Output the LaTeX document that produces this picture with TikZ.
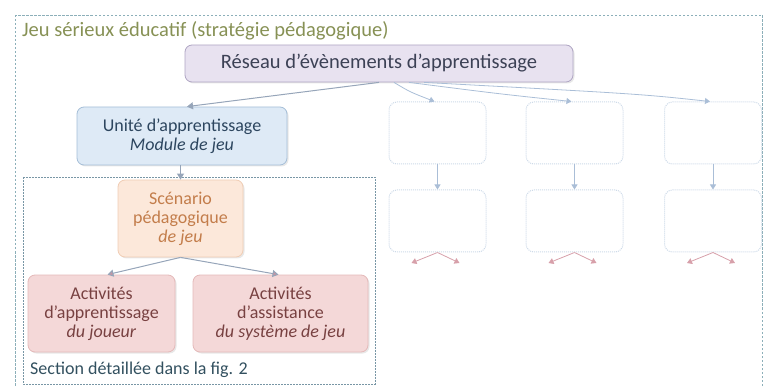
\documentclass[tikz,border=0pt]{standalone}
\usepackage{fontspec}
\setmainfont{Carlito}
\usetikzlibrary{arrows.meta,shadows}
\definecolor{titlec}{RGB}{135,145,85}
\definecolor{outerc}{RGB}{140,175,185}
\definecolor{resfill}{RGB}{232,226,240}
\definecolor{resdraw}{RGB}{175,165,195}
\definecolor{restext}{RGB}{60,65,85}
\definecolor{unifill}{RGB}{222,234,246}
\definecolor{unidraw}{RGB}{165,190,215}
\definecolor{unitext}{RGB}{45,70,95}
\definecolor{scefill}{RGB}{252,232,218}
\definecolor{scedraw}{RGB}{240,205,180}
\definecolor{scetext}{RGB}{195,125,75}
\definecolor{actfill}{RGB}{244,216,216}
\definecolor{actdraw}{RGB}{228,185,185}
\definecolor{acttext}{RGB}{120,65,65}
\definecolor{arrc}{RGB}{150,165,185}
\definecolor{arrr}{RGB}{195,150,165}
\definecolor{secc}{RGB}{120,150,165}
\definecolor{sectext}{RGB}{50,80,95}
\definecolor{fadec}{RGB}{205,218,232}
\definecolor{fadearr}{RGB}{170,190,215}
\definecolor{fader}{RGB}{215,160,170}
\begin{document}
\begin{tikzpicture}[x=1pt,y=-1pt,
  box/.style={rounded corners=7pt, draw, line width=0.8pt, align=center, inner sep=0pt,
    drop shadow={opacity=0.18, shadow xshift=1.5pt, shadow yshift=-1.5pt}},
  fadebox/.style={rounded corners=8pt, draw=fadec, densely dotted, line width=1pt, minimum width=97pt, minimum height=62pt},
  arr/.style={-{Triangle[width=7pt,length=6pt]}, draw=arrc, line width=1pt},
  arrred/.style={-{Triangle[width=7pt,length=6pt,fill=arrr]}, draw=arrc, line width=1pt},
  farr/.style={-{Triangle[width=6pt,length=5pt]}, draw=fadearr, line width=0.8pt},
  farrr/.style={-{Triangle[width=6pt,length=5pt]}, draw=fader, line width=0.8pt},
  btext/.style={font=\fontsize{18}{19}\selectfont}]
\useasboundingbox (0,0) rectangle (765,387);
% outer frame
\draw[outerc, dashed, dash pattern=on 2.5pt off 1.5pt, line width=0.9pt] (15,15) rectangle (762,395);
\node[anchor=west, text=titlec, font=\fontsize{20.5}{22}\selectfont, inner sep=0pt] (title) at (22,31) {Jeu sérieux éducatif (stratégie pédagogique)};
% section box
\draw[secc, dashed, dash pattern=on 2pt off 1pt, line width=0.8pt] (23,177) rectangle (375,384);
\node[anchor=west, text=sectext, font=\fontsize{18}{19}\selectfont, inner sep=0pt] (sec) at (30,370) {Section détaillée dans la fig. 2};
% main boxes
\node[box, fill=resfill, draw=resdraw, text=restext, minimum width=388pt, minimum height=37pt,
  font=\fontsize{20.5}{22}\selectfont] (res) at (379,63.5) {Réseau d’évènements d’apprentissage};
\node[box, fill=unifill, draw=unidraw, text=unitext, minimum width=210pt, minimum height=58pt, btext] (uni) at (182,136) {Unité d’apprentissage\\\textit{Module de jeu}};
\node[box, fill=scefill, draw=scedraw, text=scetext, minimum width=125pt, minimum height=77pt, btext] (sce) at (180.5,218.5) {Scénario\\pédagogique\\\textit{de jeu}};
\node[box, fill=actfill, draw=actdraw, text=acttext, minimum width=147pt, minimum height=77pt, btext] (act1) at (101.5,313.5) {Activités\\d’apprentissage\\\textit{du joueur}};
\node[box, fill=actfill, draw=actdraw, text=acttext, minimum width=175pt, minimum height=77pt, btext] (act2) at (280.5,313.5) {Activités\\d’assistance\\\textit{du système de jeu}};
% faded boxes
\foreach \i/\x in {1/437.5, 2/574.5, 3/713} {
  \node[fadebox] (t\i) at (\x,133) {};
  \node[fadebox] (b\i) at (\x,221) {};
  \coordinate (l\i) at (\x-26,263);
  \coordinate (r\i) at (\x+22,263);
  \draw[farr] (t\i.south) -- (b\i.north);
  \draw[farrr] (b\i.south) -- (l\i);
  \draw[farrr] (b\i.south) -- (r\i);
}
% arrows
\draw[arr] (res.south) -- ([xshift=5pt]uni.north);
\draw[farr] ([xshift=15pt]res.south) .. controls (410,92) .. ([xshift=-3pt]t1.north);
\draw[farr] ([xshift=30pt]res.south) .. controls (500,94) .. ([xshift=-3pt]t2.north);
\draw[farr] ([xshift=45pt]res.south) .. controls (640,94) .. ([xshift=-3pt]t3.north);
\draw[arr] (uni.south -| sce.north) -- (sce.north);
\draw[arrred] (sce.south) -- ([xshift=6pt]act1.north);
\draw[arrred] (sce.south) -- ([xshift=-2pt]act2.north);
\end{tikzpicture}
\end{document}
